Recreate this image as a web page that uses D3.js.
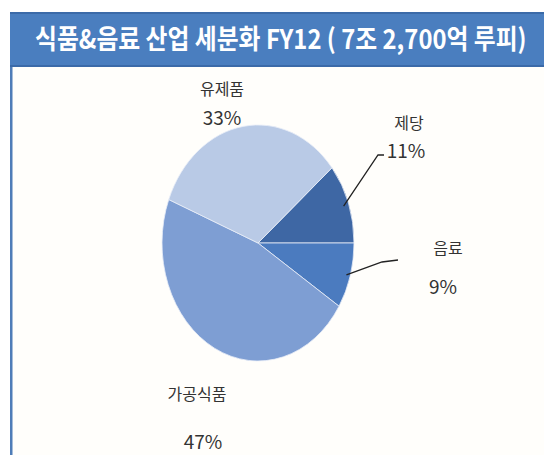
<!DOCTYPE html>
<html><head><meta charset="utf-8">
<script src="https://cdn.jsdelivr.net/npm/d3@7"></script>
<style>body{margin:0;background:#fff}svg{display:block}</style>
</head><body>
<svg id="c" width="544" height="455"></svg>
<script>
const title = "식품&음료 산업 세분화 FY12 ( 7조 2,700억 루피)";
const categories = ["제당", "음료", "가공식품", "유제품"];
const values = [11, 9, 47, 33];
const pctLabels = ["11%", "9%", "47%", "33%"];
const colors = ["#3E67A4", "#4B7BBF", "#7E9ED3", "#B9CAE6"];

const svg = d3.select("#c");
const W = 544, H = 455;
const font = "'Noto Sans CJK KR', 'Noto Sans', sans-serif";

// frame
svg.append("rect").attr("x", 11).attr("y", 12).attr("width", W - 11).attr("height", H - 12)
  .attr("fill", "#fffefb");
svg.append("rect").attr("x", 10).attr("y", 12).attr("width", 2.5).attr("height", H - 12).attr("fill", "#4F7DB8");
svg.append("rect").attr("x", 10).attr("y", 12).attr("width", W - 10).attr("height", 55).attr("fill", "#4A7EBF");
svg.append("rect").attr("x", 10).attr("y", 12).attr("width", W - 10).attr("height", 2).attr("fill", "#3B6AA8");
svg.append("rect").attr("x", 10).attr("y", 65).attr("width", W - 10).attr("height", 2).attr("fill", "#3B6AA8");
const tt = svg.append("text").attr("x", 0).attr("y", 0).text(title)
  .attr("font-family", font).attr("font-size", 27).attr("font-weight", "bold")
  .attr("fill", "#fff");
const natW = tt.node().getComputedTextLength();
tt.attr("transform", `translate(35,49) scale(${492 / natW},1)`);

// pie (elliptical)
const cx = 258, cy = 243, rx = 96, ry = 118;
const pie = d3.pie().sort(null).value(d => d)
  .startAngle(Math.PI / 2 - 2 * Math.PI * values[0] / 100)
  .endAngle(Math.PI / 2 - 2 * Math.PI * values[0] / 100 + 2 * Math.PI);
const arcs = pie(values);
const arc = d3.arc().innerRadius(0).outerRadius(rx);
const g = svg.append("g").attr("transform", `translate(${cx},${cy}) scale(1,${ry / rx})`);
g.selectAll("path").data(arcs).enter().append("path")
  .attr("d", arc).attr("fill", (d, i) => colors[i])
  .attr("stroke", "#e8eef8").attr("stroke-width", 0.8).attr("vector-effect", "non-scaling-stroke");

// leader lines
function edgePt(a) {
  const mid = (a.startAngle + a.endAngle) / 2;
  return [cx + Math.sin(mid) * rx * 0.97, cy - Math.cos(mid) * ry * 0.97];
}
const p0 = edgePt(arcs[0]);
svg.append("polyline").attr("points", [[p0[0] - 2, p0[1] + 2], [378, 155], [384, 155]].map(p => p.join(",")).join(" "))
  .attr("fill", "none").attr("stroke", "#222").attr("stroke-width", 1.3);
const p1 = edgePt(arcs[1]);
svg.append("polyline").attr("points", [[p1[0] - 1, p1[1]], [382, 262], [398, 260]].map(p => p.join(",")).join(" "))
  .attr("fill", "none").attr("stroke", "#222").attr("stroke-width", 1.3);

// labels
const labPos = [
  {x: 409, y: 129, px: 406, py: 158},
  {x: 448, y: 254, px: 443, py: 294},
  {x: 197, y: 400, px: 203, py: 449},
  {x: 222, y: 95, px: 222, py: 125}
];
categories.forEach((c, i) => {
  svg.append("text").attr("x", labPos[i].x).attr("y", labPos[i].y).attr("text-anchor", "middle")
    .attr("font-family", font).attr("font-size", 16).attr("fill", "#333").text(c);
  svg.append("text").attr("x", labPos[i].px).attr("y", labPos[i].py).attr("text-anchor", "middle")
    .attr("font-family", font).attr("font-size", 19).attr("fill", "#333").text(pctLabels[i]);
});
</script>
</body></html>
